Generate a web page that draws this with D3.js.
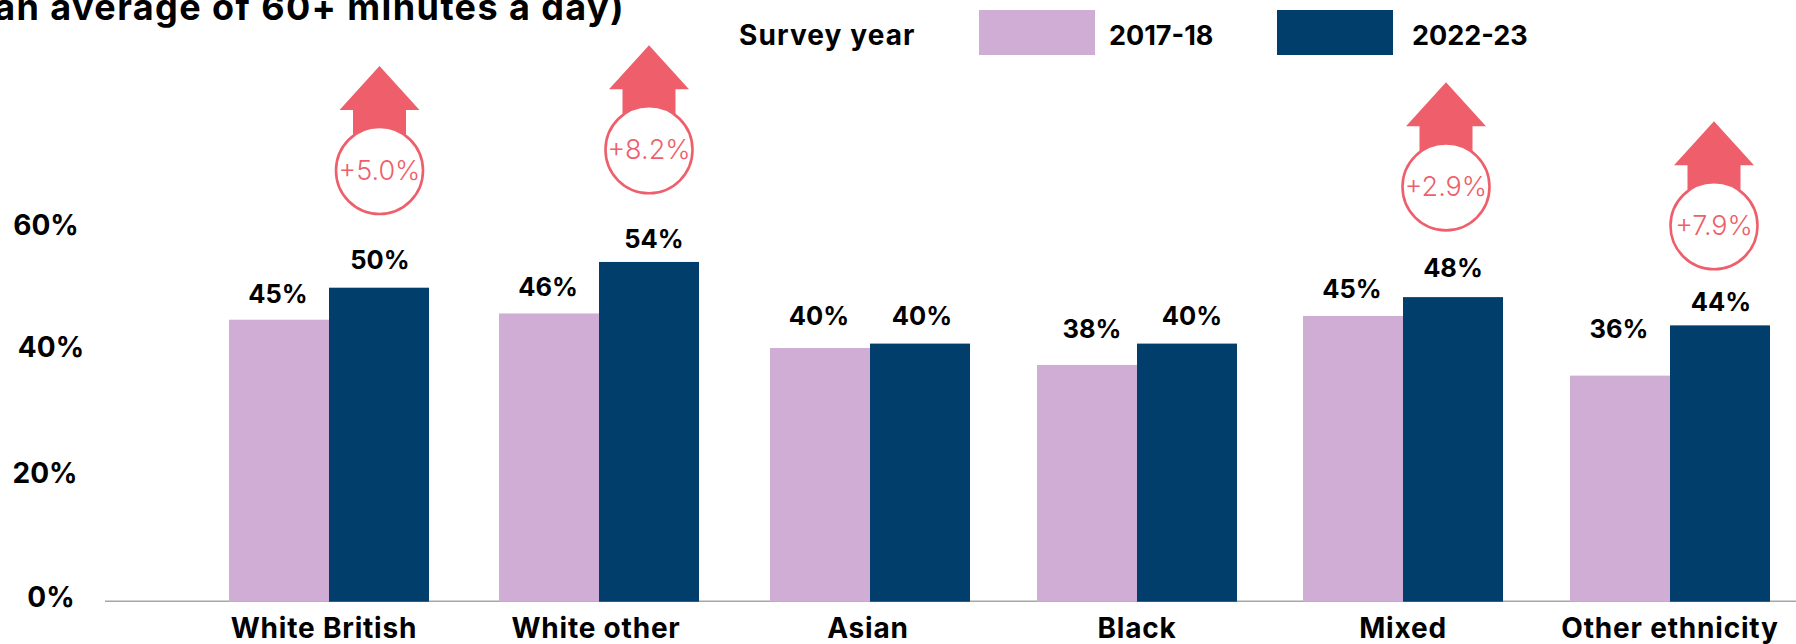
<!DOCTYPE html>
<html><head><meta charset="utf-8">
<script src="https://cdn.jsdelivr.net/npm/d3@7"></script>
<style>
html,body{margin:0;padding:0;background:#fff;overflow:hidden}
svg{display:block}
text{font-family:Inter,"Noto Sans",sans-serif;fill:#000;font-weight:700}
</style></head><body>
<svg id="c" width="1796" height="644"></svg>
<script>
// ---- data
const categories = ["White British","White other","Asian","Black","Mixed","Other ethnicity"];
const series = ["2017-18","2022-23"];
const values2017 = [44.9,45.9,40.4,37.7,45.5,36.0];
const values2023 = [50.0,54.1,41.1,41.1,48.5,44.0];
const labels2017 = ["45%","46%","40%","38%","45%","36%"];
const labels2023 = ["50%","54%","40%","40%","48%","44%"];
const yTicks = [0,20,40,60];
const annotated = ["White British","White other","Mixed","Other ethnicity"];
const changes = ["+5.0%","+8.2%","+2.9%","+7.9%"];
const arrowLevels = [85.3,88.6,82.7,76.5];
const legendTitle = "Survey year";
const titleTail = "(an average of 60+ minutes a day)";

// ---- layout & style
const colors = {"2017-18":"#CFADD4","2022-23":"#023E6B"};
const accent = "#EE5F6B";
const groupCenters = [329,599,870,1137,1403,1670];
const categoryLabelCenters = [324,596,868,1137,1403,1670];
const arrowCenters = [379.5,649,1446,1714];
const labelGap2017 = [17,17,23,27,18,38];
const labelGap2023 = [19,14,19,19,20,14];
const labelDx2017 = [-1,-1,-1,5,-1,-1];
const labelDx2023 = [1,5,2,5,0,1];
const tickCenters = [51,45,51,46];
const tickNudge = [-5,-3.5,-3.8,0];

const svg = d3.select("#c");
const y = d3.scaleLinear().domain([0,60]).range([601.7,224.9]);
const x0 = d3.scaleOrdinal(categories, groupCenters);
const xLab = d3.scaleOrdinal(categories, categoryLabelCenters);
const x1 = d3.scaleBand().domain(series).range([-100,100]);
const xArrow = d3.scaleOrdinal(annotated, arrowCenters);

// title fragment
svg.append("text").attr("x",625).attr("y",20).attr("text-anchor","end")
  .attr("font-size",36).attr("letter-spacing",1.4).text(titleTail);

// bars
const rows = categories.map((c,i)=>({c,i,a:values2017[i],b:values2023[i]}));
[["2017-18","a"],["2022-23","b"]].forEach(([s,k])=>{
  svg.append("g").selectAll("rect").data(rows).join("rect")
    .attr("x",d=>x0(d.c)+x1(s)).attr("width",x1.bandwidth())
    .attr("y",d=>y(d[k])).attr("height",d=>y(0)-y(d[k]))
    .attr("fill",colors[s]);
});

// baseline
svg.insert("line","g").attr("x1",105).attr("x2",1796).attr("y1",y(0)-0.5).attr("y2",y(0)-0.5)
  .attr("stroke","#A6A6A6").attr("stroke-width",1.5);

// value labels
const fs = 25.5;
svg.append("g").selectAll("text").data(rows).join("text")
  .attr("x",d=>x0(d.c)+x1("2017-18")+x1.bandwidth()/2+labelDx2017[d.i])
  .attr("y",d=>y(d.a)-labelGap2017[d.i]).attr("text-anchor","middle").attr("font-size",fs)
  .text(d=>labels2017[d.i]);
svg.append("g").selectAll("text").data(rows).join("text")
  .attr("x",d=>x0(d.c)+x1("2022-23")+x1.bandwidth()/2+labelDx2023[d.i])
  .attr("y",d=>y(d.b)-labelGap2023[d.i]).attr("text-anchor","middle").attr("font-size",fs)
  .text(d=>labels2023[d.i]);

// y tick labels
svg.append("g").selectAll("text").data(yTicks).join("text")
  .attr("x",(d,i)=>tickCenters[i]).attr("y",(d,i)=>y(d)+tickNudge[i]+10)
  .attr("text-anchor","middle").attr("font-size",28).text(d=>d+"%");

// category labels
svg.append("g").selectAll("text").data(categories).join("text")
  .attr("x",d=>xLab(d)).attr("y",637.5).attr("text-anchor","middle").attr("font-size",28)
  .attr("letter-spacing",0.8).text(d=>d);

// legend
svg.append("text").attr("x",739).attr("y",45).attr("font-size",28).attr("letter-spacing",1.1).text(legendTitle);
const legendX = d3.scaleOrdinal(series,[979,1277]);
const legendTextX = d3.scaleOrdinal(series,[1109,1412]);
svg.append("g").selectAll("rect").data(series).join("rect")
  .attr("x",d=>legendX(d)).attr("y",10).attr("width",116).attr("height",45).attr("fill",d=>colors[d]);
svg.append("g").selectAll("text").data(series).join("text")
  .attr("x",d=>legendTextX(d)).attr("y",45).attr("font-size",27).text(d=>d);

// change arrows
const R = 43.5;
const ann = svg.append("g").selectAll("g").data(annotated).join("g")
  .attr("transform",(d,i)=>`translate(${xArrow(d)},${y(arrowLevels[i])})`);
ann.append("path").attr("fill",accent)
  .attr("d",d3.line()([[0,0],[40,44],[26.5,44],[26.5,75],[-26.5,75],[-26.5,44],[-40,44]])+"Z");
ann.append("circle").attr("cy",104.5).attr("r",R).attr("fill","#fff").attr("stroke",accent).attr("stroke-width",2.6);
ann.append("text").attr("y",104).attr("dy","0.36em").attr("text-anchor","middle")
  .attr("font-size",27).style("font-weight",300).style("fill",accent).text((d,i)=>changes[i]);
</script>
</body></html>
